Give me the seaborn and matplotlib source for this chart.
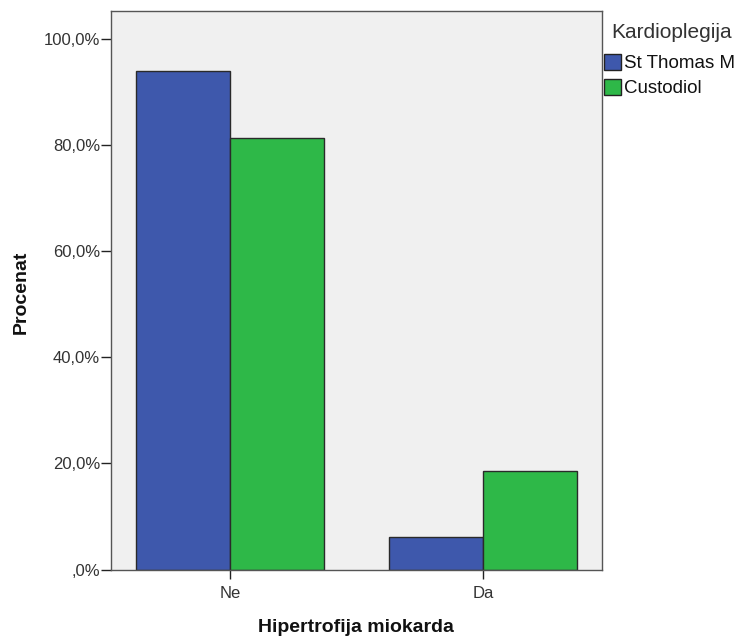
import pandas as pd
import matplotlib
matplotlib.use("Agg")
import matplotlib.pyplot as plt
from matplotlib.ticker import FuncFormatter
import seaborn as sns

# data (percent within each group)
categories = ["Ne", "Da"]
groups = ["St Thomas M", "Custodiol"]
st_thomas = [93.9, 6.1]
custodiol = [81.4, 18.6]
yticks = [0, 20, 40, 60, 80, 100]

df = pd.DataFrame({
    "Hipertrofija miokarda": categories * 2,
    "Kardioplegija": [groups[0]] * 2 + [groups[1]] * 2,
    "Procenat": st_thomas + custodiol,
})

sns.set_style("white")
plt.rcParams['font.family'] = ['Liberation Sans', 'DejaVu Sans']

W, H = 741, 636
fig = plt.figure(figsize=(W/100, H/100), dpi=100)
ax = fig.add_axes([111/W, 1-569.5/H, (602-111)/W, (569.5-11)/H])

colors = {"St Thomas M": "#3e58ac", "Custodiol": "#2eb848"}
sns.barplot(data=df, x="Hipertrofija miokarda", y="Procenat", hue="Kardioplegija",
            order=categories, hue_order=groups, palette=colors, width=0.74,
            edgecolor="#2a2a2a", linewidth=1.0, saturation=1, ax=ax)

ax.set_facecolor("#f0f0f0")
ax.set_xlim(-0.47, 1.47)
ax.set_ylim(0, 105.3)
ax.set_yticks(yticks)
ax.yaxis.set_major_formatter(FuncFormatter(lambda v, p: (",0%" if v == 0 else f"{v:.1f}%".replace(".", ","))))
for s in ax.spines.values():
    s.set_color("#555555")
    s.set_linewidth(1.0)

ax.tick_params(axis="y", left=True, length=7.5, width=1, color="#222222", labelsize=12, pad=0.5, labelcolor="#333333")
ax.tick_params(axis="x", bottom=True, length=6.5, width=1, color="#222222", labelsize=12, pad=5.5, labelcolor="#333333")
ax.set_xlabel("Hipertrofija miokarda", fontsize=14, fontweight="bold", color="#111111", va="center")
ax.set_ylabel("Procenat", fontsize=14, fontweight="bold", color="#111111", va="center")
ax.xaxis.set_label_coords((356-111)/491, (569.5-628)/558.5)
ax.yaxis.set_label_coords((21-111)/491, (569.5-292)/558.5)

# legend title drawn on its own, slightly indented like the original
fig.text(611/W, 1-32/H, "Kardioplegija", fontsize=15, color="#333333", va="center", ha="left")
leg = ax.legend(loc="upper left", bbox_to_anchor=(604/W, 1-54/H), bbox_transform=fig.transFigure,
                frameon=False, fontsize=13.5, handlelength=0.9, handleheight=0.9,
                handletextpad=0.17, borderaxespad=0, borderpad=0, labelspacing=0.36)
for h in leg.legend_handles:
    h.set_edgecolor("#222222")
for t in leg.get_texts():
    t.set_color("#111111")

fig.savefig("out.png", dpi=100)
